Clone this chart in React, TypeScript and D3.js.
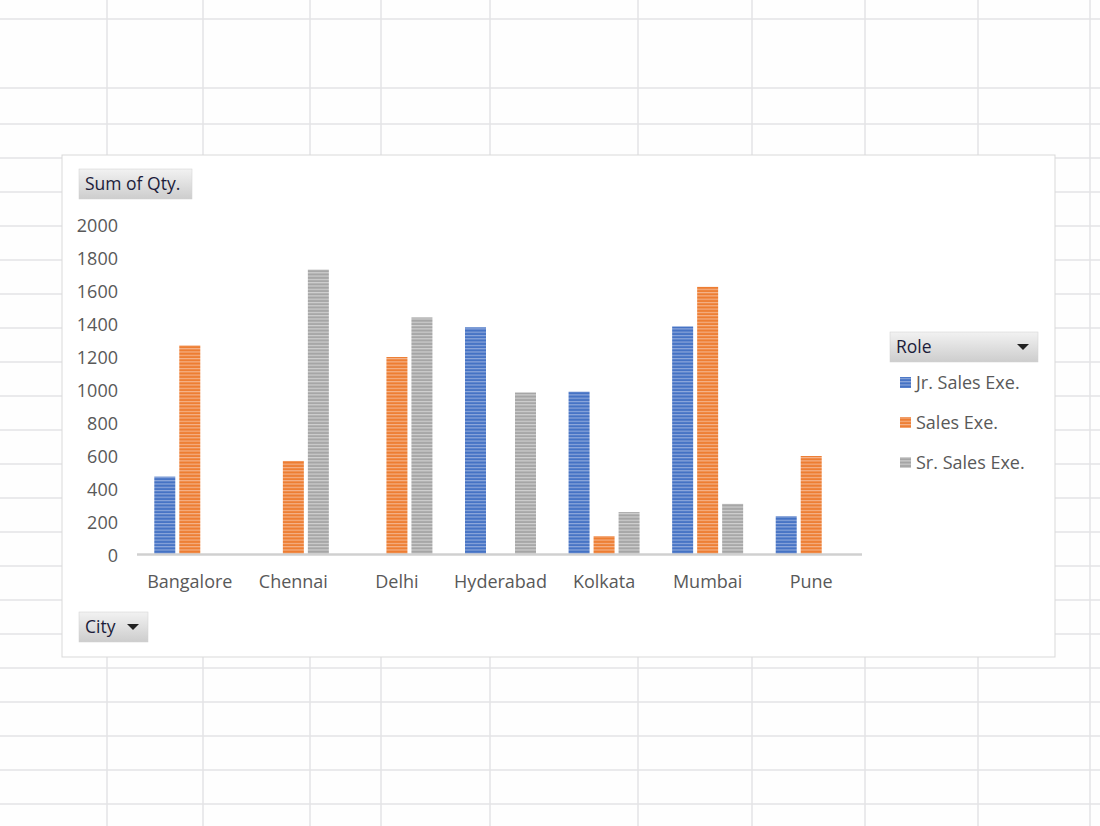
import React from "react";
import * as d3 from "d3";

const cities = ["Bangalore", "Chennai", "Delhi", "Hyderabad", "Kolkata", "Mumbai", "Pune"];
const series = ["Jr. Sales Exe.", "Sales Exe.", "Sr. Sales Exe."];
const jrSales = [475, 0, 0, 1380, 990, 1385, 235];
const sales = [1270, 570, 1200, 0, 115, 1625, 600];
const srSales = [0, 1730, 1440, 985, 260, 310, 0];
const yTicks = [0, 200, 400, 600, 800, 1000, 1200, 1400, 1600, 1800, 2000];
const colors = ["#4472C4", "#ED7D31", "#A5A5A5"];
const lightColors = ["#8FA9DC", "#F5B38A", "#D0D0D0"];

const gridX = [107, 203, 310, 381, 490, 638, 752, 865, 978, 1090];
const gridY = [19, 88, 124, 158, 192, 226, 260, 294, 328, 362, 396, 430, 464, 498, 532, 566, 600, 634, 668, 702, 736, 770, 804];

const FONT = "'Open Sans', 'DejaVu Sans', sans-serif";

export default function App() {
  const W = 1100, H = 826;
  const values = [jrSales, sales, srSales];
  const x0 = d3.scaleBand<string>().domain(cities).range([138, 863]);
  const x1 = d3.scaleBand<string>().domain(series).range([0, 71]).paddingInner(0.16);
  const y = d3.scaleLinear().domain([0, 2000]).range([555, 225]);

  const Button = ({ x, y: by, w, h, label, arrow }: any) => (
    <g>
      <rect x={x} y={by} width={w} height={h} fill="url(#btnGrad)" stroke="#d0d0d0" strokeWidth={0.5} />
      <text x={x + 6} y={by + h / 2 + 6} fontSize={17.5} fill="#1c1c3a" fontFamily={FONT}>{label}</text>
      {arrow && (
        <path d={`M${x + w - 21},${by + h / 2 - 3} l12,0 l-6,6 z`} fill="#222" />
      )}
    </g>
  );

  return (
    <svg width={W} height={H} style={{ position: "absolute", left: 0, top: 0, background: "#fefefe" }}>
      <defs>
        <linearGradient id="btnGrad" x1="0" y1="0" x2="0" y2="1">
          <stop offset="0%" stopColor="#f2f2f2" />
          <stop offset="100%" stopColor="#cdcdcd" />
        </linearGradient>
        {colors.map((c, i) => (
          <pattern key={i} id={`pat${i}`} patternUnits="userSpaceOnUse" width={4} height={3.3}>
            <rect width={4} height={3.3} fill={c} />
            <rect y={1.6} width={4} height={1.2} fill={lightColors[i]} />
          </pattern>
        ))}
      </defs>
      {gridX.map((gx, i) => (
        <line key={`gx${i}`} x1={gx} x2={gx} y1={0} y2={H} stroke="#e3e3e6" strokeWidth={1.5} />
      ))}
      {gridY.map((gy, i) => (
        <line key={`gy${i}`} x1={0} x2={W} y1={gy} y2={gy} stroke="#e3e3e6" strokeWidth={1.5} />
      ))}
      <rect x={62} y={155} width={993} height={502} fill="#ffffff" stroke="#d9d9d9" strokeWidth={1} />

      <Button x={79} y={169} w={113} h={30} label="Sum of Qty." />
      <Button x={79} y={612} w={69} h={30} label="City" arrow />
      <Button x={890} y={332} w={148} h={30} label="Role" arrow />

      {yTicks.map((t) => (
        <text key={t} x={118} y={y(t) + 6.5} textAnchor="end" fontSize={18} fill="#595959" fontFamily={FONT}>
          {t}
        </text>
      ))}

      {cities.map((c, ci) => (
        <g key={c} transform={`translate(${x0(c)! + x0.bandwidth() / 2 - 35.5},0)`}>
          {series.map((s, si) => {
            const v = values[si][ci];
            if (!v) return null;
            return (
              <rect key={s} x={x1(s)!} y={y(v)} width={x1.bandwidth()} height={y(0) - y(v)} fill={`url(#pat${si})`} />
            );
          })}
        </g>
      ))}
      <line x1={137} x2={862} y1={554.5} y2={554.5} stroke="#d0d0d0" strokeWidth={2.5} />

      {cities.map((c) => (
        <text key={c} x={x0(c)! + x0.bandwidth() / 2} y={588} textAnchor="middle" fontSize={18} fill="#595959" fontFamily={FONT}>
          {c}
        </text>
      ))}

      {series.map((s, i) => (
        <g key={s}>
          <rect x={900} y={377 + i * 40} width={11} height={11} fill={`url(#pat${i})`} />
          <text x={916} y={389 + i * 40} fontSize={18} fill="#595959" fontFamily={FONT}>{s}</text>
        </g>
      ))}
    </svg>
  );
}
